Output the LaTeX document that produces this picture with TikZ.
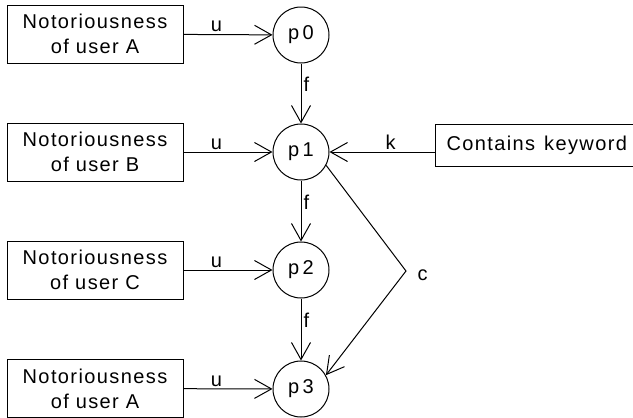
\documentclass[tikz,border=0pt]{standalone}
\usepackage{fontspec}
\setmainfont{Liberation Sans}[LetterSpace=7]
\usetikzlibrary{arrows.meta}
\begin{document}
\begin{tikzpicture}[x=1pt,y=-1pt,
  line width=1pt,
  every node/.style={font=\fontsize{20}{25}\selectfont},
  srcbox/.style={draw, rectangle, minimum width=176pt, minimum height=58pt,
    align=center, inner sep=0pt},
  state/.style={draw, circle, minimum size=56pt, inner sep=0pt},
  arr/.style={-{Straight Barb[length=17pt,width=19pt]}},
  lbl/.style={inner sep=2pt}
]
\useasboundingbox (0,0) rectangle (633,418);

% state nodes
\node[state] (p0) at (301,35)  {p\,0};
\node[state] (p1) at (301,152) {p\,1};
\node[state] (p2) at (301,270) {p\,2};
\node[state] (p3) at (301,389) {p\,3};

% notoriousness inputs
\node[srcbox] (nA)  at (95,34)    {Notoriousness\\of user A};
\node[srcbox] (nB)  at (95,152)   {Notoriousness\\of user B};
\node[srcbox] (nC)  at (95,270)   {Notoriousness\\of user C};
\node[srcbox] (nA2) at (95,388.5) {Notoriousness\\of user A};

% keyword input (runs past the right edge of the page)
\node[draw, rectangle, anchor=west, minimum height=42pt, inner xsep=11pt,
  inner ysep=0pt] (kw) at (435,145) {Contains\kern2pt\ keyword};
\coordinate (kin) at (kw.west |- p1);
\coordinate (cbend) at (406,271);

% u edges
\draw[arr] (nA)  -- node[lbl, above, pos=0.37] {u} (p0);
\draw[arr] (nB)  -- node[lbl, above, pos=0.37] {u} (p1);
\draw[arr] (nC)  -- node[lbl, above, pos=0.37] {u} (p2);
\draw[arr] (nA2) -- node[lbl, above, pos=0.37] {u} (p3);

% f edges
\draw[arr] (p0) -- node[lbl, right, pos=0.35] {f} (p1);
\draw[arr] (p1) -- node[lbl, right, pos=0.35] {f} (p2);
\draw[arr] (p2) -- node[lbl, right, pos=0.35] {f} (p3);

% k edge
\draw[arr] (kin) -- node[lbl, above, pos=0.42] {k} (p1);

% c edge
\draw[arr] (p1.-28) -- (cbend) -- (p3.29);
\node[anchor=west, inner sep=0pt] (clbl) at ([xshift=11pt,yshift=-4pt]cbend) {c};
\end{tikzpicture}
\end{document}
